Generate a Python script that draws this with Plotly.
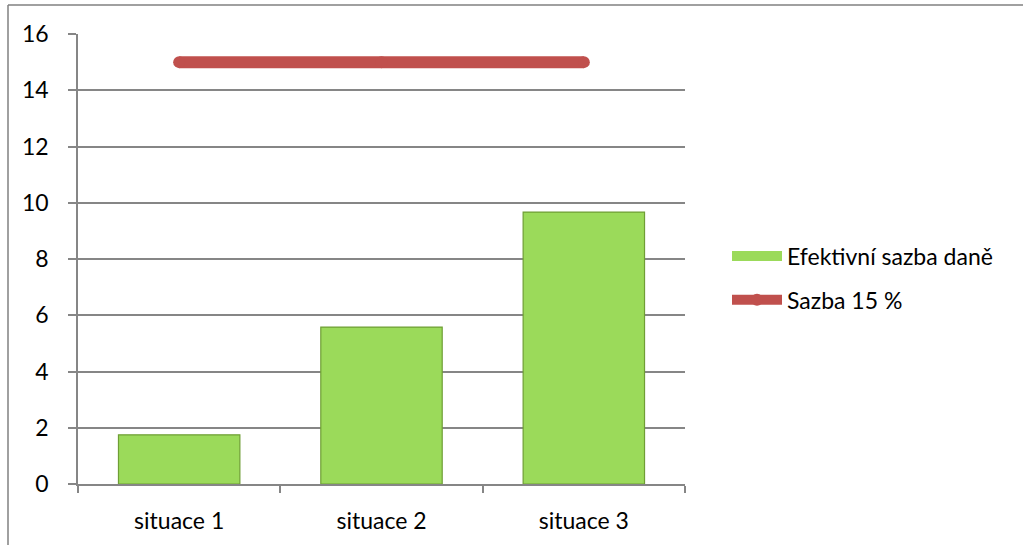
import plotly.graph_objects as go

# Data
categories = ["situace 1", "situace 2", "situace 3"]
effective_rate = [1.75, 5.58, 9.67]
flat_rate = [15, 15, 15]
y_ticks = [0, 2, 4, 6, 8, 10, 12, 14, 16]

W, H = 1024, 545
ML, MR, MT, MB = 78, 339, 34, 61
FONT = "Lato"
FS = 23

BAR_GREEN = "#9BDA5A"
BAR_EDGE = "#6F9E35"
RED = "#C0504D"

fig = go.Figure()

fig.add_trace(go.Bar(
    x=categories, y=effective_rate,
    name="Efektivní sazba daně",
    marker=dict(color=BAR_GREEN, line=dict(color=BAR_EDGE, width=1.2)),
    width=0.6,
    showlegend=False,
))

# Legend entry for the bars, drawn as a wide green swatch
fig.add_trace(go.Scatter(
    x=[categories[0]], y=[None],
    name="Efektivní sazba daně",
    mode="lines",
    line=dict(color=BAR_GREEN, width=12),
    legendgroup="a",
    showlegend=True,
))

fig.add_trace(go.Scatter(
    x=categories, y=flat_rate,
    name="Sazba 15 %",
    mode="lines+markers",
    line=dict(color=RED, width=12),
    marker=dict(color=RED, size=12, line=dict(width=0)),
    legendgroup="b",
))

grid_color = "#868686"

fig.update_layout(
    width=W, height=H,
    margin=dict(l=ML, r=MR, t=MT, b=MB),
    paper_bgcolor="white",
    plot_bgcolor="white",
    font=dict(family=FONT, size=FS, color="#000000"),
    showlegend=True,
    legend=dict(
        x=(727 - ML) / (W - ML - MR), xanchor="left",
        y=(H - MB - 257) / (H - MT - MB) + 0.05, yanchor="top",
        traceorder="grouped", tracegroupgap=11,
        itemwidth=50,
        font=dict(family=FONT, size=FS),
        bgcolor="rgba(0,0,0,0)",
    ),
    xaxis=dict(
        type="category",
        showline=True, linecolor=grid_color, linewidth=1.5,
        ticks="outside", ticklen=7, tickcolor=grid_color, tickwidth=1.5,
        tickson="boundaries",
        showgrid=False,
        tickfont=dict(family=FONT, size=FS),
        ticklabelstandoff=16,
        range=[-0.5, 2.5],
    ),
    yaxis=dict(
        range=[0, 16],
        tickvals=y_ticks,
        showline=True, linecolor=grid_color, linewidth=1.5,
        ticks="outside", ticklen=8, tickcolor=grid_color, tickwidth=1.5,
        showgrid=True, gridcolor=grid_color, gridwidth=1.5,
        zeroline=False,
        tickfont=dict(family=FONT, size=FS),
        ticklabelstandoff=15,
    ),
    bargap=0.4,
)

# Frame around the chart area (top and left edges)
pw = W - ML - MR
ph = H - MT - MB
def px_x(p):
    return (p - ML) / pw
def px_y(p):
    return (H - MB - p) / ph

fig.add_shape(type="line", xref="paper", yref="paper",
              x0=px_x(8), x1=px_x(1023), y0=px_y(5), y1=px_y(5),
              line=dict(color="#808080", width=1.5))
fig.add_shape(type="line", xref="paper", yref="paper",
              x0=px_x(8), x1=px_x(8), y0=px_y(5), y1=px_y(545),
              line=dict(color="#808080", width=1.5))

fig.write_html("out.html")
